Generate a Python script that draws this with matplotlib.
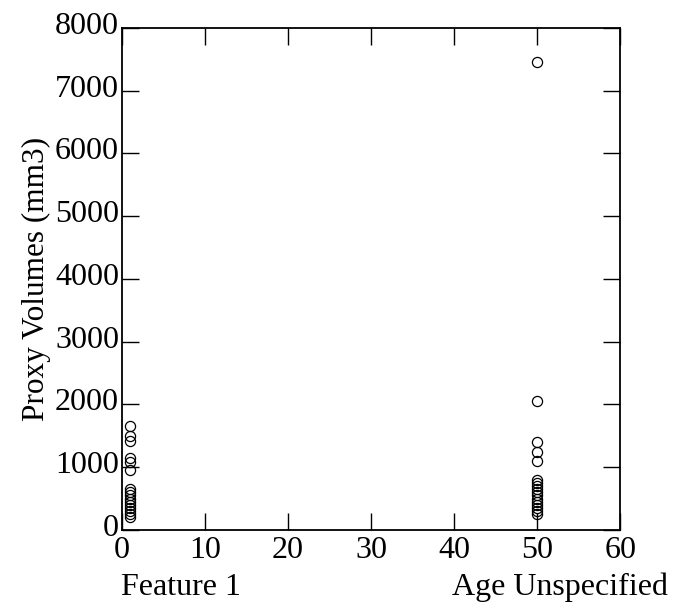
import matplotlib.pyplot as plt
import matplotlib.transforms as mtransforms

# Proxy volumes (mm3)
feature1_x = 1
feature1_vols = [1650, 1500, 1420, 1150, 1080, 950, 650, 600, 550, 500,
                 450, 400, 350, 300, 250, 200]

age_unspec_x = 50
age_unspec_vols = [7450, 2050, 1400, 1250, 1100, 800, 750, 700, 650, 600,
                   550, 500, 450, 400, 350, 300, 250]

x_ticks = [0, 10, 20, 30, 40, 50, 60]
y_ticks = [0, 1000, 2000, 3000, 4000, 5000, 6000, 7000, 8000]

plt.rcParams['font.family'] = ['Liberation Serif', 'DejaVu Serif']

fig = plt.figure(figsize=(6.77, 6.04), dpi=100)
ax = fig.add_axes([0.180, 0.1225, 0.736, 0.8315])

ax.plot([feature1_x] * len(feature1_vols), feature1_vols, 'o',
        mfc='none', mec='black', mew=0.9, ms=7.3)
ax.plot([age_unspec_x] * len(age_unspec_vols), age_unspec_vols, 'o',
        mfc='none', mec='black', mew=0.9, ms=7.3)

ax.set_xlim(0, 60)
ax.set_ylim(0, 8000)
ax.set_xticks(x_ticks)
ax.set_yticks(y_ticks)
ax.tick_params(direction='in', length=12, width=1, labelsize=23,
               top=True, right=True)
ax.tick_params(axis='x', pad=4)
ax.tick_params(axis='y', pad=2)
for s in ax.spines.values():
    s.set_linewidth(1.3)

# y tick labels sit slightly above their ticks in the original
shift = mtransforms.ScaledTranslation(0, 0.05, fig.dpi_scale_trans)
for lbl in ax.get_yticklabels():
    lbl.set_transform(lbl.get_transform() + shift)

ax.set_ylabel('Proxy Volumes (mm3)', fontsize=22.5, labelpad=3)

fig.text(0.178, 0.0149, 'Feature 1', fontsize=23, ha='left', va='baseline')
fig.text(0.987, 0.0149, 'Age Unspecified', fontsize=23, ha='right', va='baseline')

fig.savefig('out.png', dpi=100)
